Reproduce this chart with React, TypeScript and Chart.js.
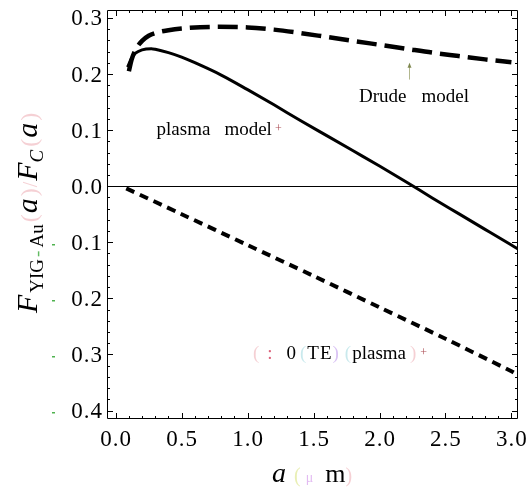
import React, { useEffect, useRef } from "react";
import { Chart, registerables } from "chart.js";
Chart.register(...registerables);

// ---- data ----
const plasmaA = [0.09, 0.12, 0.15, 0.2, 0.27, 0.3, 0.4, 0.5, 0.6, 0.8, 1.0, 1.2, 1.4, 1.6, 1.8, 2.0, 2.2, 2.4, 2.6, 2.8, 3.0, 3.05];
const plasmaF = [0.212, 0.228, 0.237, 0.243, 0.245, 0.244, 0.238, 0.23, 0.22, 0.198, 0.172, 0.145, 0.117, 0.09, 0.063, 0.036, 0.008, -0.021, -0.049, -0.077, -0.105, -0.112];
const drudeA = [0.1, 0.12, 0.15, 0.2, 0.25, 0.3, 0.4, 0.5, 0.75, 1.0, 1.2, 1.4, 1.6, 1.8, 2.0, 2.2, 2.4, 2.6, 2.8, 3.0];
const drudeF = [0.205, 0.225, 0.243, 0.259, 0.268, 0.273, 0.278, 0.281, 0.284, 0.283, 0.279, 0.273, 0.266, 0.259, 0.252, 0.245, 0.238, 0.232, 0.226, 0.221];
const teA = [0.08, 0.5, 1.0, 1.5, 2.0, 2.5, 3.0, 3.05];
const teF = [-0.004, -0.05, -0.105, -0.16, -0.216, -0.272, -0.33, -0.337];

const xTickValues = [0, 0.5, 1.0, 1.5, 2.0, 2.5, 3.0];
const yTickValues = [-0.4, -0.3, -0.2, -0.1, 0, 0.1, 0.2, 0.3];

const X_MIN = -0.066, X_MAX = 3.05, Y_MIN = -0.415, Y_MAX = 0.314;
const SERIF = "'Liberation Serif', 'Times New Roman', serif";

type Seg = { t?: string; f?: string; c?: string; dy?: number; gap?: number; ls?: number };
function segW(ctx: any, s: Seg) {
  if (s.gap !== undefined) return s.gap;
  ctx.font = s.f;
  const w = ctx.measureText(s.t).width;
  return w + (s.ls || 0) * Math.max(0, (s.t || "").length - 1);
}
function drawRich(ctx: any, x: number, y: number, segs: Seg[]) {
  let cx = x;
  for (const s of segs) {
    if (s.gap !== undefined) { cx += s.gap; continue; }
    ctx.font = s.f;
    ctx.fillStyle = s.c;
    if (s.ls) {
      let px = cx;
      for (const ch of s.t || "") {
        ctx.fillText(ch, px, y + (s.dy || 0));
        px += ctx.measureText(ch).width + s.ls;
      }
    } else {
      ctx.fillText(s.t, cx, y + (s.dy || 0));
    }
    cx += segW(ctx, s);
  }
  return cx;
}

const BLACK = "#000";
const FAINT_PINK = "rgba(225,110,120,0.32)";
const FAINT_CYAN = "rgba(120,200,210,0.4)";
const FAINT_PURPLE = "rgba(170,120,230,0.45)";
const FAINT_YELLOW = "rgba(215,225,120,0.55)";
const DARK_RED = "rgba(150,30,40,0.8)";

const framePlugin = {
  id: "frame",
  afterDatasetsDraw(chart: any) {
    const { ctx, chartArea: ca, scales } = chart;
    const x = scales.x, y = scales.y;
    ctx.save();
    ctx.strokeStyle = BLACK;
    ctx.lineWidth = 1;
    ctx.beginPath();
    ctx.rect(Math.round(ca.left) + 0.5, Math.round(ca.top) + 0.5, Math.round(ca.right - ca.left) - 1, Math.round(ca.bottom - ca.top) - 1);
    ctx.stroke();
    ctx.beginPath();
    for (let k = 0; k <= 30; k++) {
      const v = k / 10;
      const px = Math.round(x.getPixelForValue(v)) + 0.5;
      const L = k % 5 === 0 ? 6 : 3;
      ctx.moveTo(px, ca.bottom); ctx.lineTo(px, ca.bottom - L);
      ctx.moveTo(px, ca.top); ctx.lineTo(px, ca.top + L);
    }
    for (let k = -20; k <= 15; k++) {
      const v = k * 0.02;
      const py = Math.round(y.getPixelForValue(v)) + 0.5;
      const L = k % 5 === 0 ? 6 : 3;
      ctx.moveTo(ca.left, py); ctx.lineTo(ca.left + L, py);
      ctx.moveTo(ca.right, py); ctx.lineTo(ca.right - L, py);
    }
    ctx.stroke();

    // tick labels (from the scales' ticks)
    const tickFont = `23px ${SERIF}`;
    const LS = 1;
    ctx.font = tickFont;
    ctx.fillStyle = BLACK;
    ctx.textBaseline = "middle";
    for (const t of y.ticks) {
      const v = t.value;
      const s = Math.abs(v).toFixed(1);
      ctx.font = tickFont;
      const w = ctx.measureText(s).width + LS * (s.length - 1);
      const py = y.getPixelForValue(v) + 1.5;
      drawRich(ctx, ca.left - 5 - w, py, [{ t: s, f: tickFont, c: BLACK, ls: LS }]);
      if (v < 0) {
        ctx.fillStyle = "rgba(60,170,60,0.9)";
        ctx.fillRect(52, Math.round(py), 3, 1.5);
      }
    }
    for (const t of x.ticks) {
      const v = t.value;
      const s = v.toFixed(1);
      ctx.font = tickFont;
      const w = ctx.measureText(s).width + LS * (s.length - 1);
      drawRich(ctx, x.getPixelForValue(v) - w / 2, 439.5, [{ t: s, f: tickFont, c: BLACK, ls: LS }]);
    }

    // annotations
    ctx.textBaseline = "alphabetic";
    const f19 = `19px ${SERIF}`;
    drawRich(ctx, x.getPixelForValue(0.31), y.getPixelForValue(0.091), [
      { t: "plasma", f: f19, c: BLACK },
      { gap: 14 },
      { t: "model", f: f19, c: BLACK },
      { gap: 3 },
      { t: "+", f: `12px ${SERIF}`, c: DARK_RED, dy: -3 },
    ]);
    drawRich(ctx, x.getPixelForValue(1.845), y.getPixelForValue(0.150), [
      { t: "Drude", f: f19, c: BLACK },
      { gap: 15 },
      { t: "model", f: f19, c: BLACK },
    ]);
    // small arrow
    const ax = Math.round(x.getPixelForValue(2.225)) + 0.5;
    const ay0 = y.getPixelForValue(0.19), ay1 = y.getPixelForValue(0.218);
    ctx.strokeStyle = "rgba(170,175,130,0.9)";
    ctx.beginPath(); ctx.moveTo(ax, ay0); ctx.lineTo(ax, ay1); ctx.stroke();
    ctx.fillStyle = "rgba(120,130,70,0.9)";
    ctx.beginPath(); ctx.moveTo(ax, ay1 - 1); ctx.lineTo(ax - 2, ay1 + 4); ctx.lineTo(ax + 2, ay1 + 4); ctx.closePath(); ctx.fill();

    drawRich(ctx, x.getPixelForValue(1.04), y.getPixelForValue(-0.308), [
      { t: "(", f: f19, c: FAINT_PINK },
      { gap: 8 },
      { t: ":", f: f19, c: "rgba(210,60,90,0.8)" },
      { gap: 14 },
      { t: "0", f: f19, c: BLACK },
      { gap: 4 },
      { t: "(", f: f19, c: FAINT_CYAN },
      { gap: 1 },
      { t: "TE", f: f19, c: BLACK, ls: 1 },
      { gap: 1 },
      { t: ")", f: f19, c: FAINT_PURPLE },
      { gap: 6 },
      { t: "(", f: f19, c: FAINT_CYAN },
      { gap: 1 },
      { t: "plasma", f: f19, c: BLACK },
      { gap: 4 },
      { t: ")", f: f19, c: FAINT_PINK },
      { gap: 4 },
      { t: "+", f: `12px ${SERIF}`, c: DARK_RED, dy: -3 },
    ]);

    // x axis title
    drawRich(ctx, 272, 482, [
      { t: "a", f: `italic 28px ${SERIF}`, c: BLACK },
      { gap: 8 },
      { t: "(", f: `20px ${SERIF}`, c: FAINT_YELLOW },
      { gap: 5 },
      { t: "μ", f: `14px ${SERIF}`, c: "rgba(200,120,230,0.5)" },
      { gap: 12 },
      { t: "m", f: `26px ${SERIF}`, c: BLACK },
      { t: ")", f: `20px ${SERIF}`, c: FAINT_PINK },
    ]);

    // y axis title (rotated)
    const fy = `italic 30px ${SERIF}`, fs = `19px ${SERIF}`, fsi = `italic 19px ${SERIF}`, fb = `24px ${SERIF}`;
    const yt: Seg[] = [
      { t: "F", f: fy, c: BLACK },
      { gap: 2 },
      { t: "YIG", f: fs, c: BLACK, dy: 6 },
      { gap: 2 },
      { t: "-", f: fs, c: "rgba(60,170,60,0.8)", dy: 6 },
      { gap: 3 },
      { t: "Au", f: fs, c: BLACK, dy: 6 },
      { gap: 2 },
      { t: "(", f: fb, c: FAINT_PINK },
      { gap: 1 },
      { t: "a", f: fy, c: BLACK },
      { gap: 2 },
      { t: ")", f: fb, c: FAINT_PINK },
      { gap: 1 },
      { t: "/", f: `20px ${SERIF}`, c: FAINT_PINK },
      { gap: 1 },
      { t: "F", f: fy, c: BLACK },
      { t: "C", f: fsi, c: BLACK, dy: 6 },
      { gap: 3 },
      { t: "(", f: fb, c: FAINT_PINK },
      { gap: 1 },
      { t: "a", f: fy, c: BLACK },
      { gap: 2 },
      { t: ")", f: fb, c: FAINT_PINK },
    ];
    ctx.translate(37, 313);
    ctx.rotate(-Math.PI / 2);
    drawRich(ctx, 0, 0, yt);
    ctx.restore();
  },
};

export default function App() {
  const ref = useRef<HTMLCanvasElement | null>(null);
  useEffect(() => {
    if (!ref.current) return;
    Chart.defaults.font.family = SERIF;
    const chart = new Chart(ref.current, {
      type: "scatter",
      data: {
        datasets: [
          {
            label: "TE",
            data: teA.map((a, i) => ({ x: a, y: teF[i] })),
            showLine: true,
            borderColor: BLACK,
            borderWidth: 4,
            borderDash: [9, 6],
            pointRadius: 0,
            tension: 0.3,
          },
          {
            label: "Drude",
            data: drudeA.map((a, i) => ({ x: a, y: drudeF[i] })),
            showLine: true,
            borderColor: BLACK,
            borderWidth: 4.5,
            borderDash: [20, 8],
            pointRadius: 0,
            cubicInterpolationMode: "monotone",
          },
          {
            label: "plasma",
            data: plasmaA.map((a, i) => ({ x: a, y: plasmaF[i] })),
            showLine: true,
            borderColor: BLACK,
            borderWidth: 3,
            pointRadius: 0,
            cubicInterpolationMode: "monotone",
          },
        ],
      },
      options: {
        animation: false,
        responsive: false,
        layout: { padding: { left: 0, top: 10, right: 14, bottom: 0 } },
        plugins: { legend: { display: false }, tooltip: { enabled: false } },
        scales: {
          x: {
            type: "linear",
            min: X_MIN,
            max: X_MAX,
            afterBuildTicks: (s: any) => { s.ticks = xTickValues.map((v) => ({ value: v })); },
            afterFit: (s: any) => { s.height = 74; },
            grid: { display: false, drawTicks: false },
            border: { display: false },
            ticks: { display: false },
          },
          y: {
            type: "linear",
            min: Y_MIN,
            max: Y_MAX,
            afterBuildTicks: (s: any) => { s.ticks = yTickValues.map((v) => ({ value: v })); },
            afterFit: (s: any) => { s.width = 107; },
            grid: {
              drawTicks: false,
              color: (c: any) => (c.tick && Math.abs(c.tick.value) < 1e-9 ? BLACK : "rgba(0,0,0,0)"),
              lineWidth: 1,
            },
            border: { display: false },
            ticks: { display: false },
          },
        },
      },
      plugins: [framePlugin],
    } as any);
    return () => chart.destroy();
  }, []);
  return (
    <div style={{ position: "fixed", left: 0, top: 0, width: 532, height: 493, background: "#fff" }}>
      <canvas ref={ref} width={532} height={493} style={{ display: "block" }} />
    </div>
  );
}
